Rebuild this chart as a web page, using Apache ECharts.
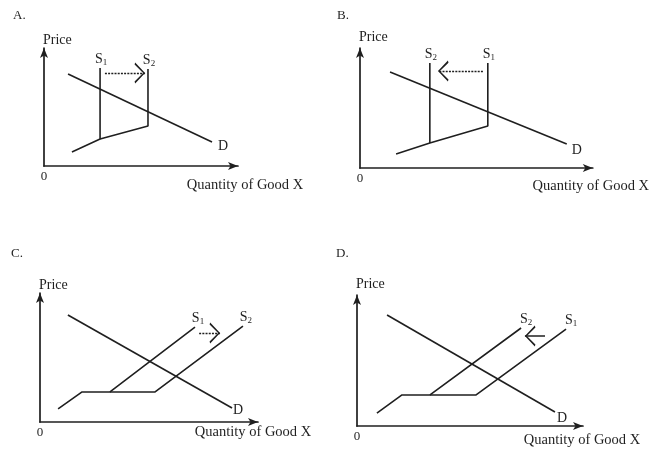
<!DOCTYPE html>
<html>
<head>
<meta charset="utf-8">
<script src="https://cdn.jsdelivr.net/npm/echarts@6/dist/echarts.min.js"></script>
<style>
  html, body { margin: 0; background: #fff; }
  #chart { width: 650px; height: 449px; }
</style>
</head>
<body>
<div id="chart"></div>
<script>
// Four supply/demand sketches. Each panel's axes run 0–100 in both directions.
const panelTitles = ['A.', 'B.', 'C.', 'D.'];
const xAxisTitle = 'Quantity of Good X';
const yAxisTitle = 'Price';

// A: kinked-vertical supply moves right
const demandA = [[12.4, 78.0], [86.6, 20.3]];
const supply1A = [[14.4, 11.9], [28.9, 22.9], [28.9, 83.1]];
const supply2A = [[28.9, 22.9], [53.6, 33.9], [53.6, 82.2]];
const shiftA = [[31.4, 78.8], [52.1, 78.8]];

// B: kinked-vertical supply moves left
const demandB = [[12.9, 80.0], [88.8, 20.0]];
const supply1B = [[15.5, 11.7], [30.0, 20.8], [54.9, 35.0], [54.9, 87.5]];
const supply2B = [[30.0, 20.8], [30.0, 87.5]];
const shiftB = [[52.8, 80.8], [33.5, 80.8]];

// C: flat-step supply moves right
const demandC = [[12.8, 82.9], [88.1, 10.9]];
const supply1C = [[8.3, 10.1], [19.3, 23.3], [32.1, 23.3], [71.1, 73.6]];
const supply2C = [[32.1, 23.3], [52.8, 23.3], [93.1, 74.4]];
const shiftC = [[73.0, 69.0], [82.6, 69.0]];

// D: flat-step supply moves left
const demandD = [[13.3, 84.7], [87.6, 10.7]];
const supply2D = [[8.8, 9.9], [19.9, 23.7], [32.3, 23.7], [72.6, 74.8]];
const supply1D = [[32.3, 23.7], [52.7, 23.7], [92.5, 74.0]];
const shiftD = [[83.2, 68.7], [74.3, 68.7]];

const panels = [
  { curves: [[demandA, 'D'], [supply1A, '1'], [supply2A, '2']], shift: shiftA, dotted: true },
  { curves: [[demandB, 'D'], [supply1B, '1'], [supply2B, '2']], shift: shiftB, dotted: true },
  { curves: [[demandC, 'D'], [supply1C, '1'], [supply2C, '2']], shift: shiftC, dotted: true },
  { curves: [[demandD, 'D'], [supply1D, '1'], [supply2D, '2']], shift: shiftD, dotted: false },
];

// pixel layout of each panel (plot box, title spot, label nudges)
const layout = [
  { grid: { left: 44, top: 48, width: 194, height: 118 }, title: [13, 9], xGap: 7, xPad: 12, yGap: 1, sDx: 1, dOff: [6, 4] },
  { grid: { left: 360, top: 48, width: 233, height: 120 }, title: [337, 9], xGap: -2, xPad: 11, yGap: 4, sDx: 1, dOff: [5, 6] },
  { grid: { left: 40, top: 293, width: 218, height: 129 }, title: [11, 247], xGap: -5, xPad: 3, yGap: 1, sDx: 3, dOff: [1, 2] },
  { grid: { left: 357, top: 295, width: 226, height: 131 }, title: [336, 247], xGap: -1, xPad: 7, yGap: 4, sDx: 5, dOff: [2, 6] },
];

const FONT = '"Liberation Serif", "Times New Roman", serif';
const INK = '#1f1f1f';
// thin open arrowhead; the empty sub-path above the tip keeps the tip at the symbol
// centre, so the arrow ends exactly on the last coordinate
const CHEVRON = 'path://M5,0 L10,10 L9,10.6 L5,2 L1,10.6 L0,10 Z M5,-10.6 L5,-10.6 Z';

const chart = echarts.init(document.getElementById('chart'), null, { renderer: 'canvas' });

const axisLine = {
  show: true, onZero: false,
  symbol: ['none', 'arrow'], symbolSize: [6, 10],
  lineStyle: { color: INK, width: 1.7 },
};

const option = {
  animation: false,
  backgroundColor: '#fff',
  grid: layout.map((l) => ({ ...l.grid })),
  xAxis: layout.map((l, i) => ({
    gridIndex: i, type: 'value', min: 0, max: 100, interval: 100,
    axisLine, axisTick: { show: false }, splitLine: { show: false },
    axisLabel: {
      margin: 4, color: INK, fontFamily: FONT, fontSize: 13,
      formatter: (v) => (v === 0 ? '0' : ''),
    },
    name: xAxisTitle, nameLocation: 'end', nameGap: l.xGap,
    nameTextStyle: {
      color: INK, fontFamily: FONT, fontSize: 14.5,
      align: 'center', verticalAlign: 'top', padding: [l.xPad, 0, 0, 0],
    },
  })),
  yAxis: layout.map((l, i) => ({
    gridIndex: i, type: 'value', min: 0, max: 100, interval: 100,
    axisLine, axisTick: { show: false }, splitLine: { show: false },
    axisLabel: { show: false },
    name: yAxisTitle, nameLocation: 'end', nameGap: l.yGap,
    nameTextStyle: {
      color: INK, fontFamily: FONT, fontSize: 14,
      align: 'left', verticalAlign: 'bottom', padding: [0, 0, 0, -1],
    },
  })),
  series: [],
};

panels.forEach((p, i) => {
  p.curves.forEach(([pts]) => {
    option.series.push({
      type: 'line', xAxisIndex: i, yAxisIndex: i, data: pts,
      showSymbol: false, silent: true,
      lineStyle: { color: INK, width: 1.6 },
    });
  });
  option.series.push({
    type: 'lines', coordinateSystem: 'cartesian2d', xAxisIndex: i, yAxisIndex: i,
    data: [{ coords: p.shift }],
    symbol: ['none', CHEVRON], symbolSize: [10, 21],
    lineStyle: { color: INK, width: p.dotted ? 1.3 : 1.5, type: p.dotted ? [2, 1.2] : 'solid', opacity: 1 },
  });
});

chart.setOption(option);

// curve names and panel letters, anchored to the curves' end points
const texts = [];
panels.forEach((p, i) => {
  const l = layout[i];
  texts.push({
    type: 'text', left: l.title[0], top: l.title[1],
    style: { text: panelTitles[i], font: `13px ${FONT}`, fill: INK },
  });
  p.curves.forEach(([pts, name]) => {
    const [x, y] = chart.convertToPixel({ gridIndex: i }, pts[pts.length - 1]);
    if (name === 'D') {
      texts.push({
        type: 'text', x: x + l.dOff[0], y: y + l.dOff[1],
        style: { text: 'D', font: `14px ${FONT}`, fill: INK, align: 'left', verticalAlign: 'middle' },
      });
    } else {
      texts.push({
        type: 'text', x: x + l.sDx, y: y - 1,
        style: {
          text: `{s|S}{n|${name}}`, align: 'center', verticalAlign: 'bottom',
          rich: {
            s: { fontFamily: FONT, fontSize: 14, fill: INK },
            n: { fontFamily: FONT, fontSize: 9, fill: INK, padding: [7, 0, 0, 0] },
          },
        },
      });
    }
  });
});
chart.setOption({ graphic: texts });
</script>
</body>
</html>
